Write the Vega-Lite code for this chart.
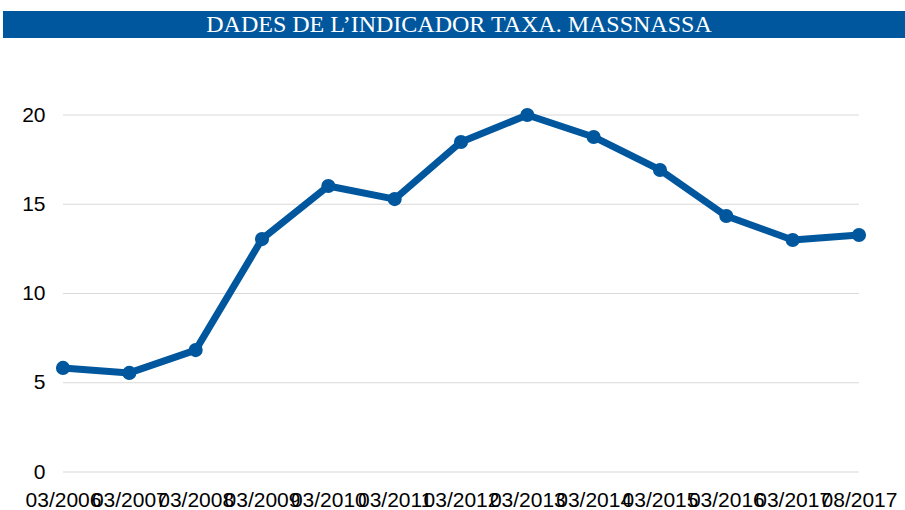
{
  "$schema": "https://vega.github.io/schema/vega-lite/v6.json",
  "padding": {"left": 3, "top": 11, "right": 0, "bottom": 0},
  "background": "white",
  "config": {
    "view": {"stroke": null},
    "concat": {"spacing": 66},
    "axis": {"labelFont": "Liberation Sans", "labelFontSize": 21, "labelColor": "#000000"}
  },
  "vconcat": [
    {
      "width": 902,
      "height": 27,
      "view": {"fill": "#00579d", "stroke": null},
      "data": {"values": [{"title": "DADES DE L’INDICADOR TAXA. MASSNASSA"}]},
      "mark": {"type": "text", "font": "Liberation Serif", "fontSize": 24, "color": "white", "baseline": "middle", "align": "center", "dx": 5},
      "encoding": {"text": {"field": "title"}}
    },
    {
      "width": 902,
      "height": 357,
      "data": {
        "values": [
          {"d": "03/2006", "v": 5.83},
          {"d": "03/2007", "v": 5.55},
          {"d": "03/2008", "v": 6.83},
          {"d": "03/2009", "v": 13.05},
          {"d": "03/2010", "v": 16.02},
          {"d": "03/2011", "v": 15.29},
          {"d": "03/2012", "v": 18.49},
          {"d": "03/2013", "v": 20.0},
          {"d": "03/2014", "v": 18.77},
          {"d": "03/2015", "v": 16.92},
          {"d": "03/2016", "v": 14.34},
          {"d": "03/2017", "v": 13.0},
          {"d": "08/2017", "v": 13.28}
        ]
      },
      "layer": [
        {
          "data": {"values": [{"g": 0}, {"g": 5}, {"g": 10}, {"g": 15}, {"g": 20}]},
          "mark": {"type": "rule", "color": "#d9d9d9", "strokeWidth": 1},
          "encoding": {
            "x": {"datum": "03/2006", "type": "ordinal"},
            "x2": {"datum": "08/2017"},
            "y": {"field": "g", "type": "quantitative"}
          }
        },
        {
          "mark": {"type": "line", "color": "#00579d", "strokeWidth": 7, "strokeJoin": "round"},
          "encoding": {
            "x": {"field": "d", "type": "ordinal"},
            "y": {"field": "v", "type": "quantitative"}
          }
        },
        {
          "mark": {"type": "point", "filled": true, "opacity": 1, "color": "#00579d", "size": 200},
          "encoding": {
            "x": {"field": "d", "type": "ordinal"},
            "y": {"field": "v", "type": "quantitative"}
          }
        }
      ],
      "resolve": {"scale": {"x": "shared", "y": "shared"}},
      "encoding": {
        "x": {
          "field": "d", "type": "ordinal", "sort": null,
          "scale": {"type": "point", "padding": 0.799, "align": 0.566,
            "domain": ["03/2006", "03/2007", "03/2008", "03/2009", "03/2010", "03/2011", "03/2012", "03/2013", "03/2014", "03/2015", "03/2016", "03/2017", "08/2017"]},
          "axis": {"title": null, "labelAngle": 0, "labelOverlap": false, "ticks": false, "domain": false, "grid": false, "labelPadding": 17}
        },
        "y": {
          "field": "v", "type": "quantitative",
          "scale": {"domain": [0, 20], "nice": false},
          "axis": {"title": null, "values": [0, 5, 10, 15, 20], "ticks": false, "domain": false, "grid": false, "labelPadding": 18, "offset": -60}
        }
      }
    }
  ]
}
